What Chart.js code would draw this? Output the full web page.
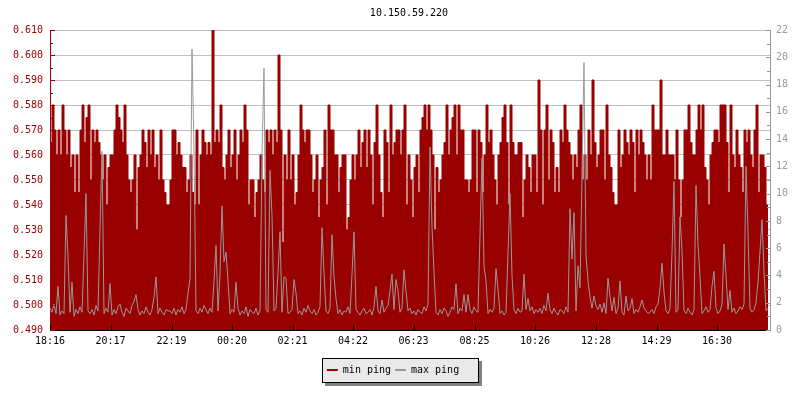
<!DOCTYPE html>
<html>
<head>
<meta charset="utf-8">
<script src="https://cdn.jsdelivr.net/npm/chart.js@4/dist/chart.umd.min.js"></script>
<style>
  html, body { margin: 0; padding: 0; background: #fff; }
  canvas { display: block; }
</style>
</head>
<body>
<canvas id="chart" width="800" height="400"></canvas>
<script>
// one sample every 4 minutes, starting at 18:16
const startTime = '18:16';
const stepMinutes = 4;
const spanMinutes = 1440;

const timeLabels = ['18:16', '20:17', '22:19', '00:20', '02:21', '04:22', '06:23', '08:25', '10:26', '12:28', '14:29', '16:30'];
const pingTicks = [0.49, 0.50, 0.51, 0.52, 0.53, 0.54, 0.55, 0.56, 0.57, 0.58, 0.59, 0.60, 0.61];
const maxTicks = [0, 2, 4, 6, 8, 10, 12, 14, 16, 18, 20, 22];

const minPing = [
  0.58, 0.565, 0.58, 0.57, 0.56, 0.57, 0.56, 0.58, 0.57, 0.56, 0.57, 0.555, 0.56, 0.545, 0.56, 0.545, 0.57, 0.58, 0.565, 0.575,
  0.58, 0.55, 0.57, 0.565, 0.57, 0.565, 0.56, 0.55, 0.56, 0.54, 0.555, 0.56, 0.56, 0.57, 0.58, 0.575, 0.57, 0.565, 0.58, 0.56,
  0.55, 0.545, 0.55, 0.56, 0.53, 0.555, 0.56, 0.57, 0.565, 0.555, 0.57, 0.56, 0.57, 0.555, 0.56, 0.55, 0.57, 0.55, 0.545, 0.54,
  0.54, 0.55, 0.57, 0.57, 0.56, 0.565, 0.56, 0.555, 0.555, 0.545, 0.55, 0.56, 0.545, 0.54, 0.57, 0.54, 0.56, 0.57, 0.565, 0.56,
  0.565, 0.56, 0.61, 0.565, 0.57, 0.565, 0.58, 0.555, 0.55, 0.56, 0.57, 0.555, 0.56, 0.57, 0.55, 0.56, 0.57, 0.565, 0.58, 0.57,
  0.54, 0.55, 0.55, 0.535, 0.545, 0.55, 0.56, 0.55, 0.545, 0.57, 0.565, 0.57, 0.56, 0.57, 0.565, 0.60, 0.57, 0.525, 0.56, 0.55,
  0.57, 0.55, 0.56, 0.54, 0.545, 0.56, 0.58, 0.57, 0.565, 0.57, 0.57, 0.56, 0.545, 0.55, 0.56, 0.535, 0.55, 0.555, 0.57, 0.54,
  0.58, 0.57, 0.57, 0.56, 0.56, 0.545, 0.555, 0.56, 0.56, 0.53, 0.535, 0.55, 0.56, 0.55, 0.56, 0.57, 0.555, 0.565, 0.57, 0.555,
  0.57, 0.56, 0.54, 0.565, 0.58, 0.56, 0.545, 0.535, 0.57, 0.565, 0.545, 0.58, 0.56, 0.565, 0.57, 0.57, 0.56, 0.57, 0.58, 0.54,
  0.56, 0.55, 0.535, 0.555, 0.56, 0.545, 0.57, 0.575, 0.58, 0.57, 0.58, 0.57, 0.56, 0.53, 0.555, 0.545, 0.55, 0.56, 0.565, 0.58,
  0.56, 0.57, 0.575, 0.58, 0.56, 0.58, 0.57, 0.57, 0.55, 0.55, 0.545, 0.55, 0.57, 0.57, 0.545, 0.57, 0.565, 0.545, 0.56, 0.58,
  0.565, 0.57, 0.56, 0.55, 0.54, 0.56, 0.565, 0.575, 0.58, 0.565, 0.54, 0.58, 0.565, 0.56, 0.56, 0.565, 0.565, 0.535, 0.55, 0.56,
  0.555, 0.545, 0.56, 0.56, 0.545, 0.59, 0.57, 0.54, 0.57, 0.58, 0.55, 0.57, 0.565, 0.545, 0.555, 0.545, 0.57, 0.565, 0.58, 0.57,
  0.565, 0.56, 0.55, 0.56, 0.555, 0.57, 0.58, 0.55, 0.56, 0.55, 0.57, 0.56, 0.59, 0.565, 0.555, 0.56, 0.57, 0.57, 0.55, 0.58,
  0.56, 0.555, 0.545, 0.54, 0.54, 0.57, 0.555, 0.56, 0.57, 0.565, 0.56, 0.57, 0.565, 0.545, 0.57, 0.56, 0.57, 0.565, 0.56, 0.55,
  0.56, 0.55, 0.58, 0.57, 0.57, 0.57, 0.59, 0.56, 0.56, 0.57, 0.56, 0.56, 0.56, 0.55, 0.57, 0.55, 0.535, 0.55, 0.57, 0.57,
  0.58, 0.565, 0.56, 0.56, 0.57, 0.58, 0.57, 0.58, 0.555, 0.55, 0.54, 0.56, 0.565, 0.57, 0.57, 0.565, 0.58, 0.58, 0.58, 0.565,
  0.545, 0.58, 0.56, 0.555, 0.57, 0.56, 0.555, 0.545, 0.57, 0.565, 0.57, 0.56, 0.555, 0.57, 0.58, 0.545, 0.56, 0.56, 0.555, 0.54
];

const maxPing = [
  1.6, 1.3, 1.9, 1.2, 3.2, 1.1, 1.4, 1.2, 8.4, 5.4, 1.3, 3.5, 1.0, 1.5, 1.2, 1.7, 1.3, 5.6, 10.0, 1.4,
  1.2, 1.5, 1.1, 1.8, 1.4, 7.5, 13.1, 1.2, 1.6, 1.3, 3.4, 1.1, 1.5, 1.2, 1.7, 1.9, 1.3, 1.0, 1.6, 1.4,
  1.2, 1.8, 2.1, 2.6, 1.5, 1.1, 1.4, 1.2, 1.7, 1.3, 1.1, 1.5, 2.4, 3.9, 1.2, 1.6, 1.3, 1.1, 1.5, 1.4,
  1.4, 1.2, 1.6, 1.1, 1.5, 1.3, 1.7, 1.2, 1.5, 2.7, 3.8, 20.6, 13.3, 1.4, 1.2, 1.6, 1.3, 1.8, 1.5, 1.2,
  1.6, 1.3, 3.6, 6.2, 1.4, 4.1, 9.1, 5.0, 5.7, 3.6, 1.2, 1.5, 1.3, 3.5, 1.6, 1.1, 1.4, 1.2, 1.7, 1.0,
  1.5, 1.3, 1.2, 1.6, 1.1, 1.4, 12.9, 19.2, 1.5, 1.3, 11.7, 8.4, 1.4, 1.6, 4.2, 7.2, 1.3, 3.9, 3.8, 1.2,
  1.3, 1.5, 3.7, 2.7, 1.2, 1.4, 1.1, 1.6, 1.3, 1.8, 1.4, 1.2, 1.5, 1.1, 1.3, 1.7, 7.5, 4.2, 1.4, 1.2,
  1.6, 7.0, 3.9, 2.3, 1.2, 1.5, 1.1, 1.4, 1.3, 1.7, 1.2, 4.1, 7.2, 1.5, 1.3, 1.1, 1.4, 1.6, 1.2, 1.3,
  1.5, 1.1, 1.7, 3.2, 1.4, 1.2, 2.2, 1.3, 1.6, 1.8, 2.9, 4.1, 1.5, 3.7, 2.9, 1.3, 1.6, 4.4, 2.9, 1.4,
  1.6, 1.2, 1.4, 1.1, 1.5, 1.3, 1.2, 1.7, 1.4, 1.9, 13.4, 7.5, 4.3, 1.3, 1.1, 1.5, 1.2, 1.6, 1.4, 1.0,
  1.3, 1.7, 1.5, 3.4, 1.2, 1.6, 1.4, 2.6, 1.3, 2.6, 1.5, 1.2, 1.7, 1.4, 1.3, 7.0, 12.6, 4.7, 3.6, 1.2,
  1.5, 1.3, 1.6, 4.5, 3.0, 1.2, 1.4, 1.1, 1.3, 5.6, 10.0, 4.0, 1.5, 1.2, 1.6, 1.3, 1.4, 4.1, 1.5, 2.3,
  1.4, 1.7, 1.2, 1.5, 1.3, 1.6, 1.2, 1.8, 1.4, 2.7, 1.5, 1.2, 1.6, 1.3, 1.1, 1.5, 1.4, 1.2, 1.7, 1.3,
  8.9, 5.2, 8.6, 1.4, 4.7, 3.1, 11.3, 19.6, 5.5, 3.6, 2.4, 1.6, 2.5, 1.8, 1.5, 1.9, 1.3, 2.0, 1.2, 3.8,
  2.5, 1.4, 2.4, 1.2, 1.6, 3.6, 1.3, 1.1, 2.5, 1.4, 1.6, 2.3, 1.2, 1.5, 1.3, 1.7, 2.2, 1.6, 1.4, 1.2,
  1.3, 1.5, 1.2, 1.7, 1.9, 3.1, 4.9, 2.8, 1.4, 1.2, 1.6, 5.7, 10.9, 1.3, 1.5, 8.3, 5.8, 1.4, 1.2, 1.6,
  1.3, 1.1, 1.5, 10.6, 6.3, 3.9, 1.2, 1.4, 1.7, 1.3, 1.5, 3.2, 4.3, 1.6, 1.2, 1.4, 1.9, 6.3, 4.0, 1.5,
  2.9, 1.3, 1.6, 1.2, 1.4, 1.7, 1.5, 1.9, 12.0, 7.2, 1.6, 1.3, 1.5, 2.0, 3.5, 5.8, 8.1, 4.3, 1.4, 1.6
];

const RED = '#990000';
const GREY = '#999999';
const FONT = { family: '"DejaVu Sans Mono", monospace', size: 10 };

function toMinutes(label) {
  const [h, m] = label.split(':').map(Number);
  return h * 60 + m;
}
function sinceStart(label) {
  return (toMinutes(label) - toMinutes(startTime) + spanMinutes) % spanMinutes;
}

// tick marks drawn inwards like the original
const innerTicks = {
  id: 'innerTicks',
  afterDatasetsDraw(chart) {
    const { ctx, chartArea: a, scales } = chart;
    ctx.save();
    ctx.lineWidth = 1;
    ctx.strokeStyle = RED;
    ctx.beginPath();
    for (let i = 0; i < pingTicks.length; i++) {
      const y = Math.round(scales.y.getPixelForValue(pingTicks[i])) + 0.5;
      ctx.moveTo(a.left, y); ctx.lineTo(a.left + 5, y);
      if (i < pingTicks.length - 1) {
        const ym = Math.round(scales.y.getPixelForValue((pingTicks[i] + pingTicks[i + 1]) / 2)) + 0.5;
        ctx.moveTo(a.left, ym); ctx.lineTo(a.left + 3, ym);
      }
    }
    ctx.stroke();
    ctx.strokeStyle = GREY;
    ctx.beginPath();
    for (let v = 0; v <= 22; v++) {
      const y = Math.round(scales.y1.getPixelForValue(v)) + 0.5;
      ctx.moveTo(a.right, y); ctx.lineTo(a.right - (v % 2 ? 3 : 4), y);
    }
    ctx.stroke();
    ctx.strokeStyle = '#000';
    ctx.beginPath();
    timeLabels.forEach(t => {
      const x = Math.round(scales.x.getPixelForValue(sinceStart(t))) + 0.5;
      ctx.moveTo(x, a.bottom); ctx.lineTo(x, a.bottom - 5);
    });
    ctx.stroke();
    ctx.restore();
  }
};

// title sits a bit right of centre, legend a bit left, inside a grey box with a shadow
const legendBox = {
  id: 'legendBox',
  afterLayout(chart) {
    if (chart.legend) chart.legend.right -= 14;
    if (chart.titleBlock) chart.titleBlock.left += 18;
  },
  beforeDraw(chart) {
    const boxes = chart.legend && chart.legend.legendHitBoxes;
    if (!boxes || !boxes.length) return;
    const first = boxes[0], last = boxes[boxes.length - 1];
    const mid = first.top + first.height / 2;
    const left = Math.round(first.left) - 5;
    const right = Math.round(last.left + last.width) + 19;
    const top = Math.round(mid) - 12;
    const bottom = Math.round(mid) + 12;
    const ctx = chart.ctx;
    ctx.save();
    ctx.fillStyle = '#808080';
    ctx.fillRect(left + 3, top + 3, right - left + 1, bottom - top + 1);
    ctx.fillStyle = '#e9e9e9';
    ctx.fillRect(left, top, right - left, bottom - top);
    ctx.strokeStyle = '#000';
    ctx.lineWidth = 1;
    ctx.strokeRect(left + 0.5, top + 0.5, right - left, bottom - top);
    ctx.restore();
  }
};

new Chart(document.getElementById('chart'), {
  type: 'line',
  data: {
    datasets: [
      {
        label: 'min ping',
        data: minPing.map((v, i) => ({ x: i * stepMinutes, y: v })),
        yAxisID: 'y',
        borderColor: RED,
        backgroundColor: RED,
        borderWidth: 1,
        fill: 'start',
        stepped: 'after',
        pointRadius: 0,
        order: 2
      },
      {
        label: 'max ping',
        data: maxPing.map((v, i) => ({ x: i * stepMinutes, y: v })),
        yAxisID: 'y1',
        borderColor: GREY,
        backgroundColor: GREY,
        borderWidth: 1,
        fill: false,
        tension: 0,
        pointRadius: 0,
        order: 1
      }
    ]
  },
  options: {
    responsive: false,
    animation: false,
    layout: { padding: { left: 0, right: 0, top: 0, bottom: 15 } },
    plugins: {
      title: {
        display: true,
        text: '10.150.59.220',
        color: '#000',
        font: { family: FONT.family, size: 10, weight: 'normal' },
        padding: { top: 7, bottom: 11 }
      },
      legend: {
        position: 'bottom',
        labels: {
          color: '#000',
          font: FONT,
          boxWidth: 11,
          boxHeight: 2,
          padding: 4,
          generateLabels: chart => chart.data.datasets.map((ds, i) => ({
            text: ds.label,
            fillStyle: ds.borderColor,
            strokeStyle: ds.borderColor,
            lineWidth: 0,
            hidden: false,
            datasetIndex: i
          }))
        }
      },
      tooltip: { enabled: false }
    },
    scales: {
      x: {
        type: 'linear',
        min: 0,
        max: spanMinutes,
        afterBuildTicks: s => { s.ticks = timeLabels.map(t => ({ value: sinceStart(t) })); },
        afterFit: s => { s.height = 31; },
        grid: { display: false, drawTicks: false },
        border: { color: '#000' },
        ticks: {
          autoSkip: false,
          maxRotation: 0,
          padding: 5,
          color: '#000',
          font: FONT,
          callback: (v, i) => timeLabels[i]
        }
      },
      y: {
        position: 'left',
        min: 0.49,
        max: 0.61,
        afterBuildTicks: s => { s.ticks = pingTicks.map(v => ({ value: v })); },
        afterFit: s => { s.width = 50; },
        grid: { color: '#c0c0c0', drawTicks: false },
        border: { color: RED },
        ticks: { color: RED, padding: 7, font: FONT, callback: v => v.toFixed(3) }
      },
      y1: {
        position: 'right',
        min: 0,
        max: 22,
        afterBuildTicks: s => { s.ticks = maxTicks.map(v => ({ value: v })); },
        afterFit: s => { s.width = 30; },
        grid: { drawOnChartArea: false, drawTicks: false },
        border: { color: GREY },
        ticks: { color: GREY, padding: 6, font: FONT }
      }
    }
  },
  plugins: [innerTicks, legendBox]
});
</script>
</body>
</html>
